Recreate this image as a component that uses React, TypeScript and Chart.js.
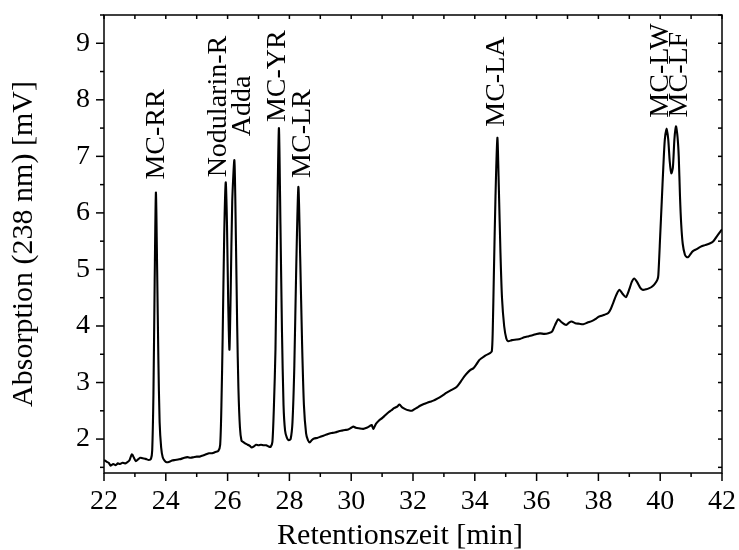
import React, { useEffect, useRef } from 'react';
import { Chart, registerables } from 'chart.js';

Chart.register(...registerables);

// ---- data ----
const retentionTime = [
  22.00, 22.08, 22.15, 22.22, 22.30, 22.38, 22.45, 22.52, 22.60, 22.68, 22.75, 22.82, 22.90, 22.96, 23.03, 23.10, 23.17, 23.25, 23.35, 23.45, 23.52,
  23.56, 23.60, 23.64, 23.68, 23.72, 23.76, 23.80, 23.85, 23.90, 23.96, 24.03, 24.12, 24.20, 24.30, 24.40, 24.50, 24.60, 24.70, 24.80, 24.90,
  25.00, 25.10, 25.20, 25.30, 25.40, 25.50, 25.60, 25.70,
  25.76, 25.80, 25.84, 25.89, 25.94, 25.98, 26.02, 26.06, 26.10, 26.15, 26.22, 26.27, 26.31, 26.35, 26.40, 26.45, 26.50, 26.58, 26.65, 26.72, 26.78, 26.85, 26.92,
  27.00, 27.08, 27.16, 27.25, 27.32, 27.39,
  27.45, 27.50, 27.55, 27.60, 27.66, 27.71, 27.76, 27.81, 27.86, 27.92, 27.98, 28.04,
  28.10, 28.16, 28.22, 28.29, 28.35, 28.41, 28.47, 28.54, 28.60, 28.66, 28.72, 28.80, 28.90,
  29.00, 29.10, 29.20, 29.30, 29.40, 29.50, 29.60, 29.70, 29.80, 29.90, 30.00, 30.07, 30.15, 30.25, 30.39, 30.50, 30.60, 30.66, 30.72, 30.80, 30.90,
  31.00, 31.10, 31.20, 31.30, 31.40, 31.50, 31.56, 31.65, 31.75, 31.85, 31.96, 32.05, 32.15, 32.23, 32.35, 32.45, 32.55, 32.66, 32.80, 32.95,
  33.09, 33.25, 33.41, 33.55, 33.65, 33.74, 33.85, 33.95, 34.05, 34.15, 34.22, 34.35, 34.49, 34.55,
  34.58, 34.62, 34.67, 34.73, 34.78, 34.83, 34.88, 34.95, 35.02, 35.08, 35.20, 35.35, 35.46, 35.60, 35.75, 35.89,
  36.00, 36.11, 36.25, 36.38, 36.50, 36.60, 36.70, 36.80, 36.90, 36.97, 37.05, 37.13, 37.25, 37.38, 37.51, 37.65, 37.80, 37.90,
  38.00, 38.10, 38.20, 38.32, 38.40, 38.48, 38.58, 38.68, 38.78, 38.89, 39.00, 39.08, 39.16, 39.25, 39.35, 39.43, 39.55, 39.65, 39.72, 39.82, 39.91,
  39.94, 40.00, 40.05, 40.10, 40.15, 40.21, 40.26, 40.31, 40.36, 40.41, 40.46, 40.51, 40.56, 40.60, 40.64, 40.68, 40.73, 40.80, 40.86, 40.91, 40.98,
  41.05, 41.18, 41.30, 41.45, 41.60, 41.72, 41.85, 42.00,
];

const absorption = [
  1.63, 1.60, 1.58, 1.53, 1.56, 1.54, 1.57, 1.56, 1.58, 1.57, 1.59, 1.62, 1.73, 1.68, 1.61, 1.64, 1.67, 1.66, 1.65, 1.63, 1.65,
  1.80, 2.80, 4.80, 6.36, 5.00, 3.40, 2.30, 1.85, 1.68, 1.62, 1.59, 1.60, 1.62, 1.63, 1.64, 1.65, 1.67, 1.68, 1.67, 1.68,
  1.69, 1.69, 1.71, 1.73, 1.75, 1.75, 1.77, 1.79,
  1.90, 2.60, 3.80, 5.60, 6.54, 5.80, 4.40, 3.58, 4.60, 6.20, 6.93, 5.50, 4.00, 2.90, 2.20, 1.97, 1.95, 1.92, 1.90, 1.88, 1.85, 1.87, 1.90,
  1.89, 1.90, 1.89, 1.89, 1.87, 1.86,
  1.95, 2.60, 3.60, 5.60, 7.50, 5.80, 3.90, 2.60, 2.15, 2.02, 1.98, 2.00,
  2.30, 3.30, 5.00, 6.46, 5.20, 3.70, 2.60, 2.10, 1.98, 1.94, 1.98, 2.01, 2.02,
  2.04, 2.06, 2.08, 2.10, 2.11, 2.12, 2.14, 2.15, 2.16, 2.17, 2.20, 2.22, 2.20, 2.19, 2.18, 2.20, 2.23, 2.25, 2.18, 2.27, 2.33,
  2.37, 2.42, 2.47, 2.51, 2.55, 2.58, 2.61, 2.56, 2.53, 2.51, 2.50, 2.53, 2.56, 2.59, 2.62, 2.64, 2.66, 2.68, 2.72, 2.77,
  2.82, 2.87, 2.92, 3.02, 3.10, 3.16, 3.22, 3.25, 3.32, 3.40, 3.43, 3.48, 3.52, 3.55,
  3.90, 5.00, 6.30, 7.33, 6.40, 5.30, 4.50, 4.00, 3.78, 3.73, 3.75, 3.76, 3.77, 3.80, 3.82, 3.84,
  3.86, 3.87, 3.86, 3.87, 3.90, 4.02, 4.12, 4.07, 4.03, 4.02, 4.06, 4.08, 4.05, 4.04, 4.03, 4.06, 4.09, 4.12,
  4.16, 4.18, 4.20, 4.23, 4.30, 4.41, 4.55, 4.64, 4.57, 4.51, 4.65, 4.78, 4.84, 4.78, 4.68, 4.64, 4.65, 4.67, 4.69, 4.74, 4.82,
  4.90, 5.60, 6.20, 6.80, 7.30, 7.49, 7.30, 6.90, 6.70, 6.80, 7.30, 7.53, 7.35, 7.00, 6.30, 5.80, 5.45, 5.26, 5.22, 5.22, 5.27,
  5.32, 5.36, 5.40, 5.43, 5.46, 5.50, 5.60, 5.71,
];

const xTickLabels = [22, 24, 26, 28, 30, 32, 34, 36, 38, 40, 42];
const xMinorTicks = [23, 25, 27, 29, 31, 33, 35, 37, 39, 41];
const yTickLabels = [2, 3, 4, 5, 6, 7, 8, 9];
const yMinorTicks = [1.5, 2.5, 3.5, 4.5, 5.5, 6.5, 7.5, 8.5, 9.5];

const xTitle = 'Retentionszeit [min]';
const yTitle = 'Absorption (238 nm) [mV]';

const peakNames = ['MC-RR', 'Nodularin-R', 'Adda', 'MC-YR', 'MC-LR', 'MC-LA', 'MC-LW', 'MC-LF'];
const peakTimes = [23.68, 25.94, 26.22, 27.66, 28.29, 34.73, 40.21, 40.51];
const peakHeights = [6.36, 6.54, 6.93, 7.50, 6.46, 7.33, 7.49, 7.53];

// ---- layout / style (pixels) ----
const labelOffsets = [
  [8, -13], [0, -5], [16, -24], [6, -6], [12, -9], [7, -11], [1, -11], [11, -9],
];
const FONT = '"Liberation Serif", "Times New Roman", Times, serif';

const framePlugin = {
  id: 'frameAndLabels',
  afterDraw(chart: any) {
    const { ctx, chartArea: a, scales } = chart;
    const x = scales.x;
    const y = scales.y;
    ctx.save();
    ctx.strokeStyle = '#000';
    ctx.lineWidth = 1.5;
    ctx.strokeRect(a.left, a.top, a.right - a.left, a.bottom - a.top);
    const seg = (x1: number, y1: number, x2: number, y2: number) => {
      ctx.beginPath();
      ctx.moveTo(x1, y1);
      ctx.lineTo(x2, y2);
      ctx.stroke();
    };
    xTickLabels.forEach((t) => {
      const px = x.getPixelForValue(t);
      seg(px, a.bottom, px, a.bottom + 8);
      seg(px, a.top, px, a.top + 4);
    });
    xMinorTicks.forEach((t) => {
      const px = x.getPixelForValue(t);
      seg(px, a.bottom, px, a.bottom + 4);
      seg(px, a.top, px, a.top + 4);
    });
    yTickLabels.forEach((v) => {
      const py = y.getPixelForValue(v);
      seg(a.left - 8, py, a.left, py);
      seg(a.right - 4, py, a.right, py);
    });
    yMinorTicks.forEach((v) => {
      const py = y.getPixelForValue(v);
      seg(a.left - 4, py, a.left, py);
      seg(a.right - 4, py, a.right, py);
    });

    ctx.fillStyle = '#000';
    // x-axis title
    ctx.font = `30px ${FONT}`;
    ctx.textAlign = 'center';
    ctx.textBaseline = 'middle';
    ctx.fillText(xTitle, 400, 536);

    // peak labels
    ctx.font = `28px ${FONT}`;
    ctx.textAlign = 'left';
    ctx.textBaseline = 'alphabetic';
    peakNames.forEach((name, i) => {
      const px = x.getPixelForValue(peakTimes[i]) + labelOffsets[i][0];
      const py = y.getPixelForValue(peakHeights[i]) + labelOffsets[i][1];
      ctx.save();
      ctx.translate(px, py);
      ctx.rotate(-Math.PI / 2);
      ctx.fillText(name, 0, 0);
      ctx.restore();
    });
    ctx.restore();
  },
};

export default function App() {
  const canvasRef = useRef<HTMLCanvasElement | null>(null);

  useEffect(() => {
    if (!canvasRef.current) return;
    const points = retentionTime.map((t, i) => ({ x: t, y: absorption[i] }));
    const chart = new Chart(canvasRef.current, {
      type: 'line',
      data: {
        datasets: [
          {
            data: points,
            borderColor: '#000',
            borderWidth: 2.1,
            pointRadius: 0,
            tension: 0.25,
            fill: false,
          },
        ],
      },
      options: {
        animation: false,
        responsive: false,
        events: [],
        layout: { padding: { left: 0, top: 15, right: 17, bottom: 0 } },
        plugins: { legend: { display: false }, tooltip: { enabled: false } },
        scales: {
          x: {
            type: 'linear',
            min: 22,
            max: 42,
            afterBuildTicks: (s: any) => {
              s.ticks = xTickLabels.map((v) => ({ value: v }));
            },
            afterFit: (s: any) => {
              s.height = 77;
              s.paddingLeft = 0;
              s.paddingRight = 0;
            },
            grid: { display: false },
            border: { display: false },
            ticks: {
              color: '#000',
              font: { family: FONT, size: 28 },
              padding: 4,
              maxRotation: 0,
              autoSkip: false,
            },
            title: { display: false },
          },
          y: {
            type: 'linear',
            min: 1.4,
            max: 9.5,
            afterBuildTicks: (s: any) => {
              s.ticks = yTickLabels.map((v) => ({ value: v }));
            },
            afterFit: (s: any) => {
              s.width = 104;
              s.paddingTop = 0;
              s.paddingBottom = 0;
            },
            grid: { display: false },
            border: { display: false },
            ticks: {
              color: '#000',
              font: { family: FONT, size: 28 },
              padding: 6,
            },
            title: {
              display: true,
              text: yTitle,
              color: '#000',
              font: { family: FONT, size: 30 },
              padding: { top: 6, bottom: 0 },
            },
          },
        },
      },
      plugins: [framePlugin],
    });
    return () => chart.destroy();
  }, []);

  return (
    <div style={{ position: 'absolute', left: 0, top: 0, width: 739, height: 550, background: '#fff' }}>
      <canvas ref={canvasRef} width={739} height={550} style={{ display: 'block' }} />
    </div>
  );
}
